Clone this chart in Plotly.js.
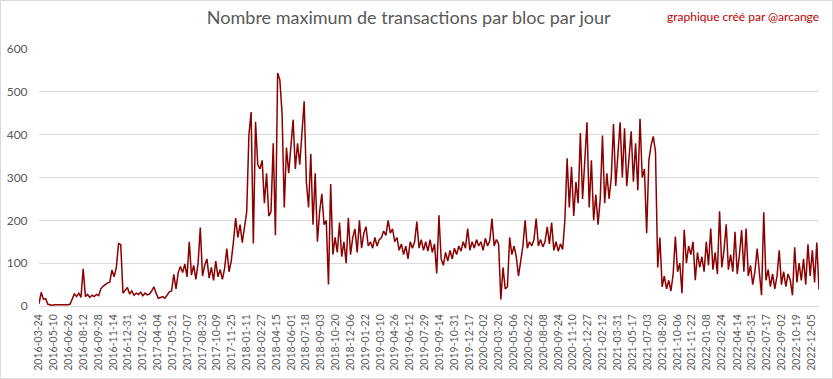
<!DOCTYPE html>
<html><head><meta charset="utf-8">
<script src="https://cdn.plot.ly/plotly-3.0.1.min.js"></script>
<style>
html,body{margin:0;padding:0;background:#fff}
#frame{width:833px;height:379px;box-sizing:border-box;border:1px solid #d9d9d9;}
#chart{width:831px;height:377px}
</style></head>
<body><div id="frame"><div id="chart"></div></div>
<script>
// Weekly samples (max transactions per block per day)
const startDate = '2016-03-24';
const stepDays = 7;
const maxTx = [
  5, 32, 16, 17, 4,   3, 2, 3, 3, 2,   3, 3, 2, 3, 4,   15, 28, 22, 30, 20,
  87, 22, 27, 20, 25,   22, 27, 24, 40, 46,   50, 54, 55, 84, 68,   90, 146, 143, 30, 38,
  43, 28, 35, 25, 30,   27, 32, 24, 30, 26,   28, 35, 45, 30, 18,   20, 22, 18, 25, 33,
  35, 74, 40, 78, 92,   78, 98, 68, 150, 72,   95, 62, 100, 183, 70,   95, 110, 65, 90, 60,
  105, 68, 85, 62, 88,   134, 80, 105, 150, 205,   160, 190, 148, 180, 220,   400, 453, 146, 430, 330,
  320, 340, 240, 310, 210,   220, 380, 165, 544, 528,   450, 230, 370, 310, 365,   435, 320, 380, 330, 400,
  478, 290, 230, 355, 190,   310, 150, 220, 262, 190,   200, 50, 285, 120, 160,   125, 195, 115, 150, 100,
  206, 120, 160, 180, 125,   200, 135, 170, 185, 140,   150, 135, 160, 140, 155,   160, 175, 165, 200, 170,
  180, 150, 160, 130, 145,   120, 140, 110, 150, 135,   150, 197, 135, 155, 130,   150, 128, 155, 125, 145,
  76, 212, 110, 95, 125,   105, 130, 110, 135, 120,   140, 128, 150, 135, 181,   130, 150, 135, 155, 140,
  150, 130, 158, 140, 152,   204, 140, 155, 145, 15,   90, 40, 45, 160, 120,   140, 115, 70, 110, 140,
  200, 135, 150, 140, 155,   204, 140, 155, 138, 150,   185, 145, 195, 130, 150,   128, 145, 132, 200, 345,
  230, 325, 210, 290, 240,   404, 250, 350, 429, 230,   340, 200, 260, 190, 250,   398, 240, 310, 250, 300,
  425, 280, 350, 429, 300,   415, 280, 340, 408, 290,   380, 270, 437, 300, 320,   170, 340, 375, 396, 360,
  90, 160, 45, 70, 40,   60, 35, 75, 162, 80,   100, 30, 178, 100, 140,   120, 150, 60, 125, 90,
  115, 80, 150, 95, 181,   85, 125, 75, 221, 90,   130, 191, 85, 120, 80,   173, 75, 120, 177, 80,
  181, 70, 95, 50, 80,   134, 80, 25, 219, 60,   85, 45, 75, 40, 70,   130, 50, 80, 45, 75,
  60, 25, 137, 55, 100,   60, 110, 50, 144, 70,   130, 55, 148, 38
];
const tickLabels = [
  '2016-03-24','2016-05-10','2016-06-26','2016-08-12','2016-09-28','2016-11-14','2016-12-31',
  '2017-02-16','2017-04-04','2017-05-21','2017-07-07','2017-08-23','2017-10-09','2017-11-25',
  '2018-01-11','2018-02-27','2018-04-15','2018-06-01','2018-07-18','2018-09-03','2018-10-20','2018-12-06',
  '2019-01-22','2019-03-10','2019-04-26','2019-06-12','2019-07-29','2019-09-14','2019-10-31','2019-12-17',
  '2020-02-02','2020-03-20','2020-05-06','2020-06-22','2020-08-08','2020-09-24','2020-11-10','2020-12-27',
  '2021-02-12','2021-03-31','2021-05-17','2021-07-03','2021-08-20','2021-10-06','2021-11-22',
  '2022-01-08','2022-02-24','2022-04-14','2022-05-31','2022-07-17','2022-09-02','2022-10-19','2022-12-05'
];
const yTicks = [0, 100, 200, 300, 400, 500, 600];

function addDays(s, n) {
  const d = new Date(s + 'T00:00:00Z');
  d.setUTCDate(d.getUTCDate() + n);
  return d.toISOString().slice(0, 10);
}
const dates = maxTx.map((_, i) => addDays(startDate, i * stepDays));

const gray = '#595959';
const trace = {
  x: dates, y: maxTx, type: 'scatter', mode: 'lines',
  line: {color: '#8b0000', width: 1.5}, hoverinfo: 'skip'
};
const layout = {
  width: 831, height: 377,
  margin: {l: 38, r: 13, t: 48, b: 72, pad: 0},
  paper_bgcolor: '#fff', plot_bgcolor: '#fff',
  showlegend: false,
  font: {family: 'Lato, "Liberation Sans", sans-serif', color: gray},
  title: {
    text: 'Nombre maximum de transactions par bloc par jour',
    font: {family: 'Lato, sans-serif', size: 18, color: gray},
    xref: 'paper', x: 0.474, xanchor: 'center',
    yref: 'container', y: 0.955, yanchor: 'middle'
  },
  xaxis: {
    type: 'date',
    range: [dates[0], dates[dates.length - 1]],
    tickmode: 'array', tickvals: tickLabels, ticktext: tickLabels,
    tickangle: -90,
    tickfont: {family: 'Lato, sans-serif', size: 10.5, color: gray},
    showgrid: false, zeroline: false,
    showline: true, linecolor: '#d9d9d9', linewidth: 1,
    ticks: 'outside', ticklen: 3, tickcolor: 'rgba(0,0,0,0)'
  },
  yaxis: {
    range: [0, 600],
    tickmode: 'array', tickvals: yTicks,
    tickfont: {family: 'Lato, sans-serif', size: 12, color: gray},
    showgrid: true, gridcolor: '#d9d9d9', gridwidth: 1,
    zeroline: false, showline: false,
    ticks: 'outside', ticklen: 8, tickcolor: 'rgba(0,0,0,0)'
  },
  annotations: [{
    text: 'graphique créé par @arcange',
    xref: 'paper', yref: 'paper', x: 1.003, y: 1.125,
    xanchor: 'right', yanchor: 'middle', showarrow: false,
    font: {family: 'Lato, sans-serif', size: 12, color: '#c00000'}
  }]
};
Plotly.newPlot('chart', [trace], layout, {displayModeBar: false, staticPlot: true});
</script>
</body></html>
